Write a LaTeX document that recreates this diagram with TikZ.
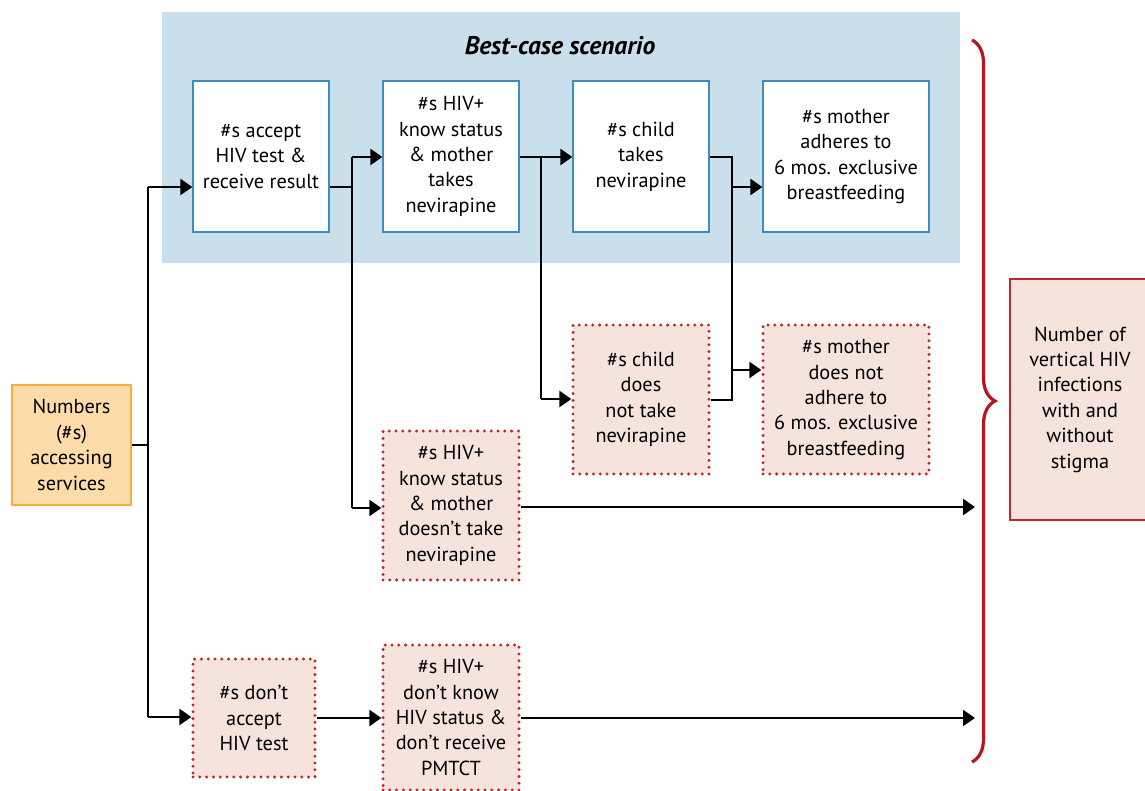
\documentclass[tikz,border=0pt]{standalone}
\usepackage{fontspec}
\setmainfont{PT Sans}
\usetikzlibrary{arrows.meta,decorations.pathreplacing}
\definecolor{bgblue}{HTML}{C9DFEC}
\definecolor{boxblue}{HTML}{3A8FC0}
\definecolor{badfill}{HTML}{F5E3DC}
\definecolor{dotred}{HTML}{C0282D}
\definecolor{bracered}{HTML}{B8151F}
\definecolor{numfill}{HTML}{FDDCAA}
\definecolor{numdraw}{HTML}{F7AE3E}
\begin{document}
\begin{tikzpicture}[x=1pt,y=-1pt,
  txt/.style={align=center,font=\fontsize{20.3}{25.4}\selectfont,inner sep=0pt},
  goodbox/.style={txt,draw=boxblue,fill=white,line width=1.3pt},
  badbox/.style={txt,fill=badfill,draw=dotred,line width=3.3pt,dash pattern=on 0pt off 6.8pt,line cap=round},
  numbox/.style={txt,fill=numfill,draw=numdraw,line width=2.2pt},
  resbox/.style={txt,fill=badfill,draw=dotred,line width=1.8pt},
  conn/.style={line width=2.4pt,black},
  arr/.style={conn,-{Triangle[length=12pt,width=16pt]}},
  bracepath/.style={draw=bracered,line width=3.2pt,decorate,decoration={brace,amplitude=23pt}}
]
\useasboundingbox (0,0) rectangle (1145,791);
% background
\fill[bgblue] (162,12) rectangle (960,263);
\node[inner sep=0pt,font=\fontsize{25.5}{28}\selectfont\bfseries\itshape] (title) at (560,46) {Best-case scenario};
% good boxes
\node[goodbox,minimum width=136pt,minimum height=151pt] (A) at (261,156.5) {\#s accept\\HIV test \&\\receive result};
\node[goodbox,minimum width=136pt,minimum height=151pt] (B) at (451,156.5) {\#s HIV+\\know status\\\& mother\\takes\\nevirapine};
\node[goodbox,minimum width=136pt,minimum height=151pt] (C) at (641,156.5) {\#s child\\takes\\nevirapine};
\node[goodbox,minimum width=166pt,minimum height=151pt] (D) at (846,156.5) {\#s mother\\adheres to\\6 mos. exclusive\\breastfeeding};
% start
\node[numbox,minimum width=119pt,minimum height=120pt] (N) at (71.5,445) {Numbers\\(\#s)\\accessing\\services};
% bad boxes
\node[badbox,minimum width=136pt,minimum height=149pt] (E) at (641,399.5) {\#s child\\does\\not take\\nevirapine};
\node[badbox,minimum width=166pt,minimum height=149pt] (F) at (846,399.5) {\#s mother\\does not\\adhere to\\6 mos. exclusive\\breastfeeding};
\node[badbox,minimum width=136pt,minimum height=149pt] (G) at (451,505.5) {\#s HIV+\\know status\\\& mother\\doesn’t take\\nevirapine};
\node[badbox,minimum width=122pt,minimum height=118pt] (H) at (254,718) {\#s don’t\\accept\\HIV test};
\node[badbox,minimum width=136pt,minimum height=145pt] (I) at (451,717.5) {\#s HIV+\\don’t know\\HIV status \&\\don’t receive\\PMTCT};
% result
\node[resbox,minimum width=140pt,minimum height=241pt] (R) at (1080,399.5) {Number of\\vertical HIV\\infections\\with and\\without\\stigma};
% brace
\coordinate (bt) at (972,40);
\coordinate (bb) at (972,762);
\draw[bracepath] (bt) -- (bb);
% junctions
\coordinate (jA) at (148,187);
\coordinate (jH) at (148,717);
\coordinate (jB) at (352,157);
\coordinate (jG) at (352,508);
\coordinate (jC) at (541,157);
\coordinate (jE) at (541,399);
\coordinate (jD0) at (732,157);
\coordinate (jD) at (732,187);
\coordinate (jF) at (732,370);
\coordinate (jE2) at (732,400);
\coordinate (eG) at (975,507);
\coordinate (eI) at (975,718);
% connectors
\draw[conn] (N.east) -- (N.east -| jA);
\draw[conn] (jA) -- (jH);
\draw[arr] (jA) -- (jA -| A.west);
\draw[arr] (jH) -- (jH -| H.west);
\draw[conn] (A.east |- jA) -- (jA -| jB);
\draw[conn] (jB) -- (jG);
\draw[arr] (jB) -- (jB -| B.west);
\draw[arr] (jG) -- (jG -| G.west);
\draw[conn] (B.east |- jC) -- (jC) -- (jE);
\draw[arr] (jC) -- (jC -| C.west);
\draw[arr] (jE) -- (jE -| E.west);
\draw[conn] (C.east |- jD0) -- (jD0) -- (jE2) -- (E.east |- jE2);
\draw[arr] (jD) -- (jD -| D.west);
\draw[arr] (jF) -- (jF -| F.west);
\draw[arr] (G.east |- eG) -- (eG);
\draw[arr] (H.east) -- (H.east -| I.west);
\draw[arr] (I.east |- eI) -- (eI);
\end{tikzpicture}
\end{document}
